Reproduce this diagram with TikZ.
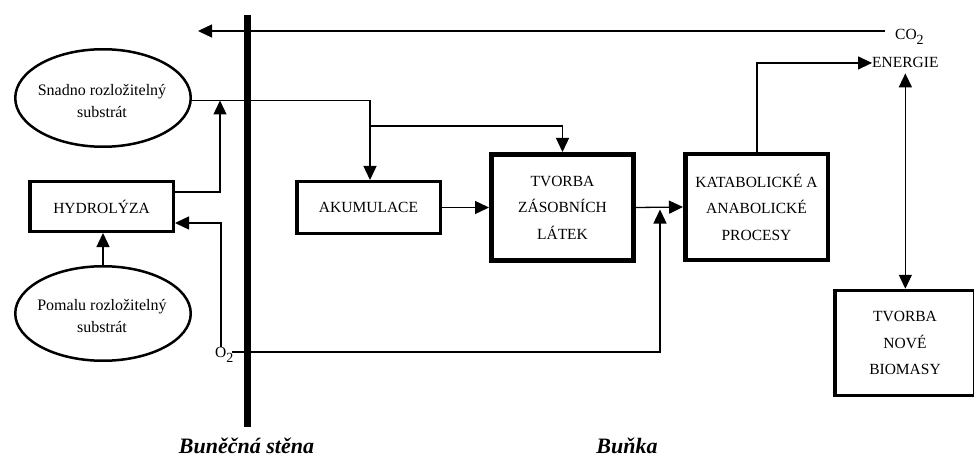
\documentclass[tikz,border=0pt]{standalone}
\usepackage{fontspec}
\setmainfont{Liberation Serif}
\usetikzlibrary{arrows.meta,shapes.geometric,calc}
\newcommand{\lowtwo}{\raisebox{-5pt}{\fontsize{14}{14}\selectfont 2}}
\begin{document}
\begin{tikzpicture}[x=1pt,y=-1pt,
  arr/.style={line width=1.3pt,-{Triangle[length=14pt,width=13pt]}},
  darr/.style={line width=1.3pt,{Triangle[length=14pt,width=13pt]}-{Triangle[length=14pt,width=13pt]}},
  procbox/.style={draw, rectangle, inner sep=0pt, align=center, font=\fontsize{15.5}{26.5}\selectfont},
  substr/.style={draw, ellipse, line width=2.5pt, inner sep=0pt},
  substext/.style={align=center, inner sep=0pt, font=\fontsize{16}{22}\selectfont},
  lbl/.style={inner sep=0pt, font=\fontsize{15.5}{18}\selectfont},
  captext/.style={inner sep=0pt, font=\fontsize{22}{26}\selectfont\bfseries\itshape}
]
\clip (0,0) rectangle (974,457);
% cell wall
\fill (244,15) rectangle (251,427);

% substrates
\node[substr, minimum width=175.5pt, minimum height=97.5pt] (s1) at (103,98) {};
\node[substext] (s1t) at (102,101) {Snadno rozložitelný\\substrát};
\node[substr, minimum width=175.5pt, minimum height=94.5pt] (s2) at (103,313.5) {};
\node[substext] (s2t) at (102,316.5) {Pomalu rozložitelný\\substrát};

% process boxes
\node[procbox, line width=3.5pt, minimum width=143.5pt, minimum height=49.5pt] (hyd) at (101.5,206.5) {HYDROLÝZA};
\node[procbox, line width=3.5pt, minimum width=143.5pt, minimum height=51.5pt] (aku) at (368.5,207.5) {AKUMULACE};
\node[procbox, line width=5pt, minimum width=142pt, minimum height=106pt] (tz) at (562.5,207.5) {TVORBA\\ZÁSOBNÍCH\\LÁTEK};
\node[procbox, line width=4.5pt, minimum width=142.5pt, minimum height=105.5pt] (kat) at (756.5,207) {KATABOLICKÉ A\\ANABOLICKÉ\\PROCESY};
\node[procbox, line width=3.5pt, minimum width=140pt, minimum height=105pt] (nov) at (905,343) {TVORBA\\NOVÉ\\BIOMASY};

% labels
\node[lbl, anchor=base west] (co2) at (895,40) {CO\lowtwo};
\node[lbl, anchor=base west] (en) at (872,68) {ENERGIE};
\node[lbl, anchor=base west] (o2) at (215,357) {O\lowtwo};

% junction coordinates
\coordinate (co2in) at (885,31);
\coordinate (co2out) at (198,31);
\coordinate (jA) at (370,126);
\coordinate (jB) at (220,100.5);
\coordinate (jC) at (220,192);
\coordinate (jD) at (221,223);
\coordinate (jE) at (660,209.5);
\coordinate (jF) at (232,352);

% connectors
\draw[arr] (co2in) -- (co2out);
\draw[arr] (s1.east |- jB) -| ($(aku.north)+(1.5,0)$);
\draw[arr] (jA) -| (tz.north);
\draw[arr] (hyd.east |- jC) -| (jB);
\draw[arr] (jD |- o2.north) -- (jD) -- (hyd.east |- jD);
\draw[arr] (s2.north) -- (s2.north |- hyd.south);
\draw[arr] (jF) -| (jE);
\draw[arr] (aku.east) -- (tz.west);
\draw[arr] (tz.east) -- (kat.west);
\draw[arr] ($(kat.north)+(0.5,0)$) |- (en.west);
\draw[darr] ([yshift=-5pt]en.south) -- (en.south |- nov.north);

% captions
\node[captext, anchor=base] (wall) at (246.5,453) {Buněčná stěna};
\node[captext, anchor=base] (cell) at (627,453) {Buňka};
\end{tikzpicture}
\end{document}
